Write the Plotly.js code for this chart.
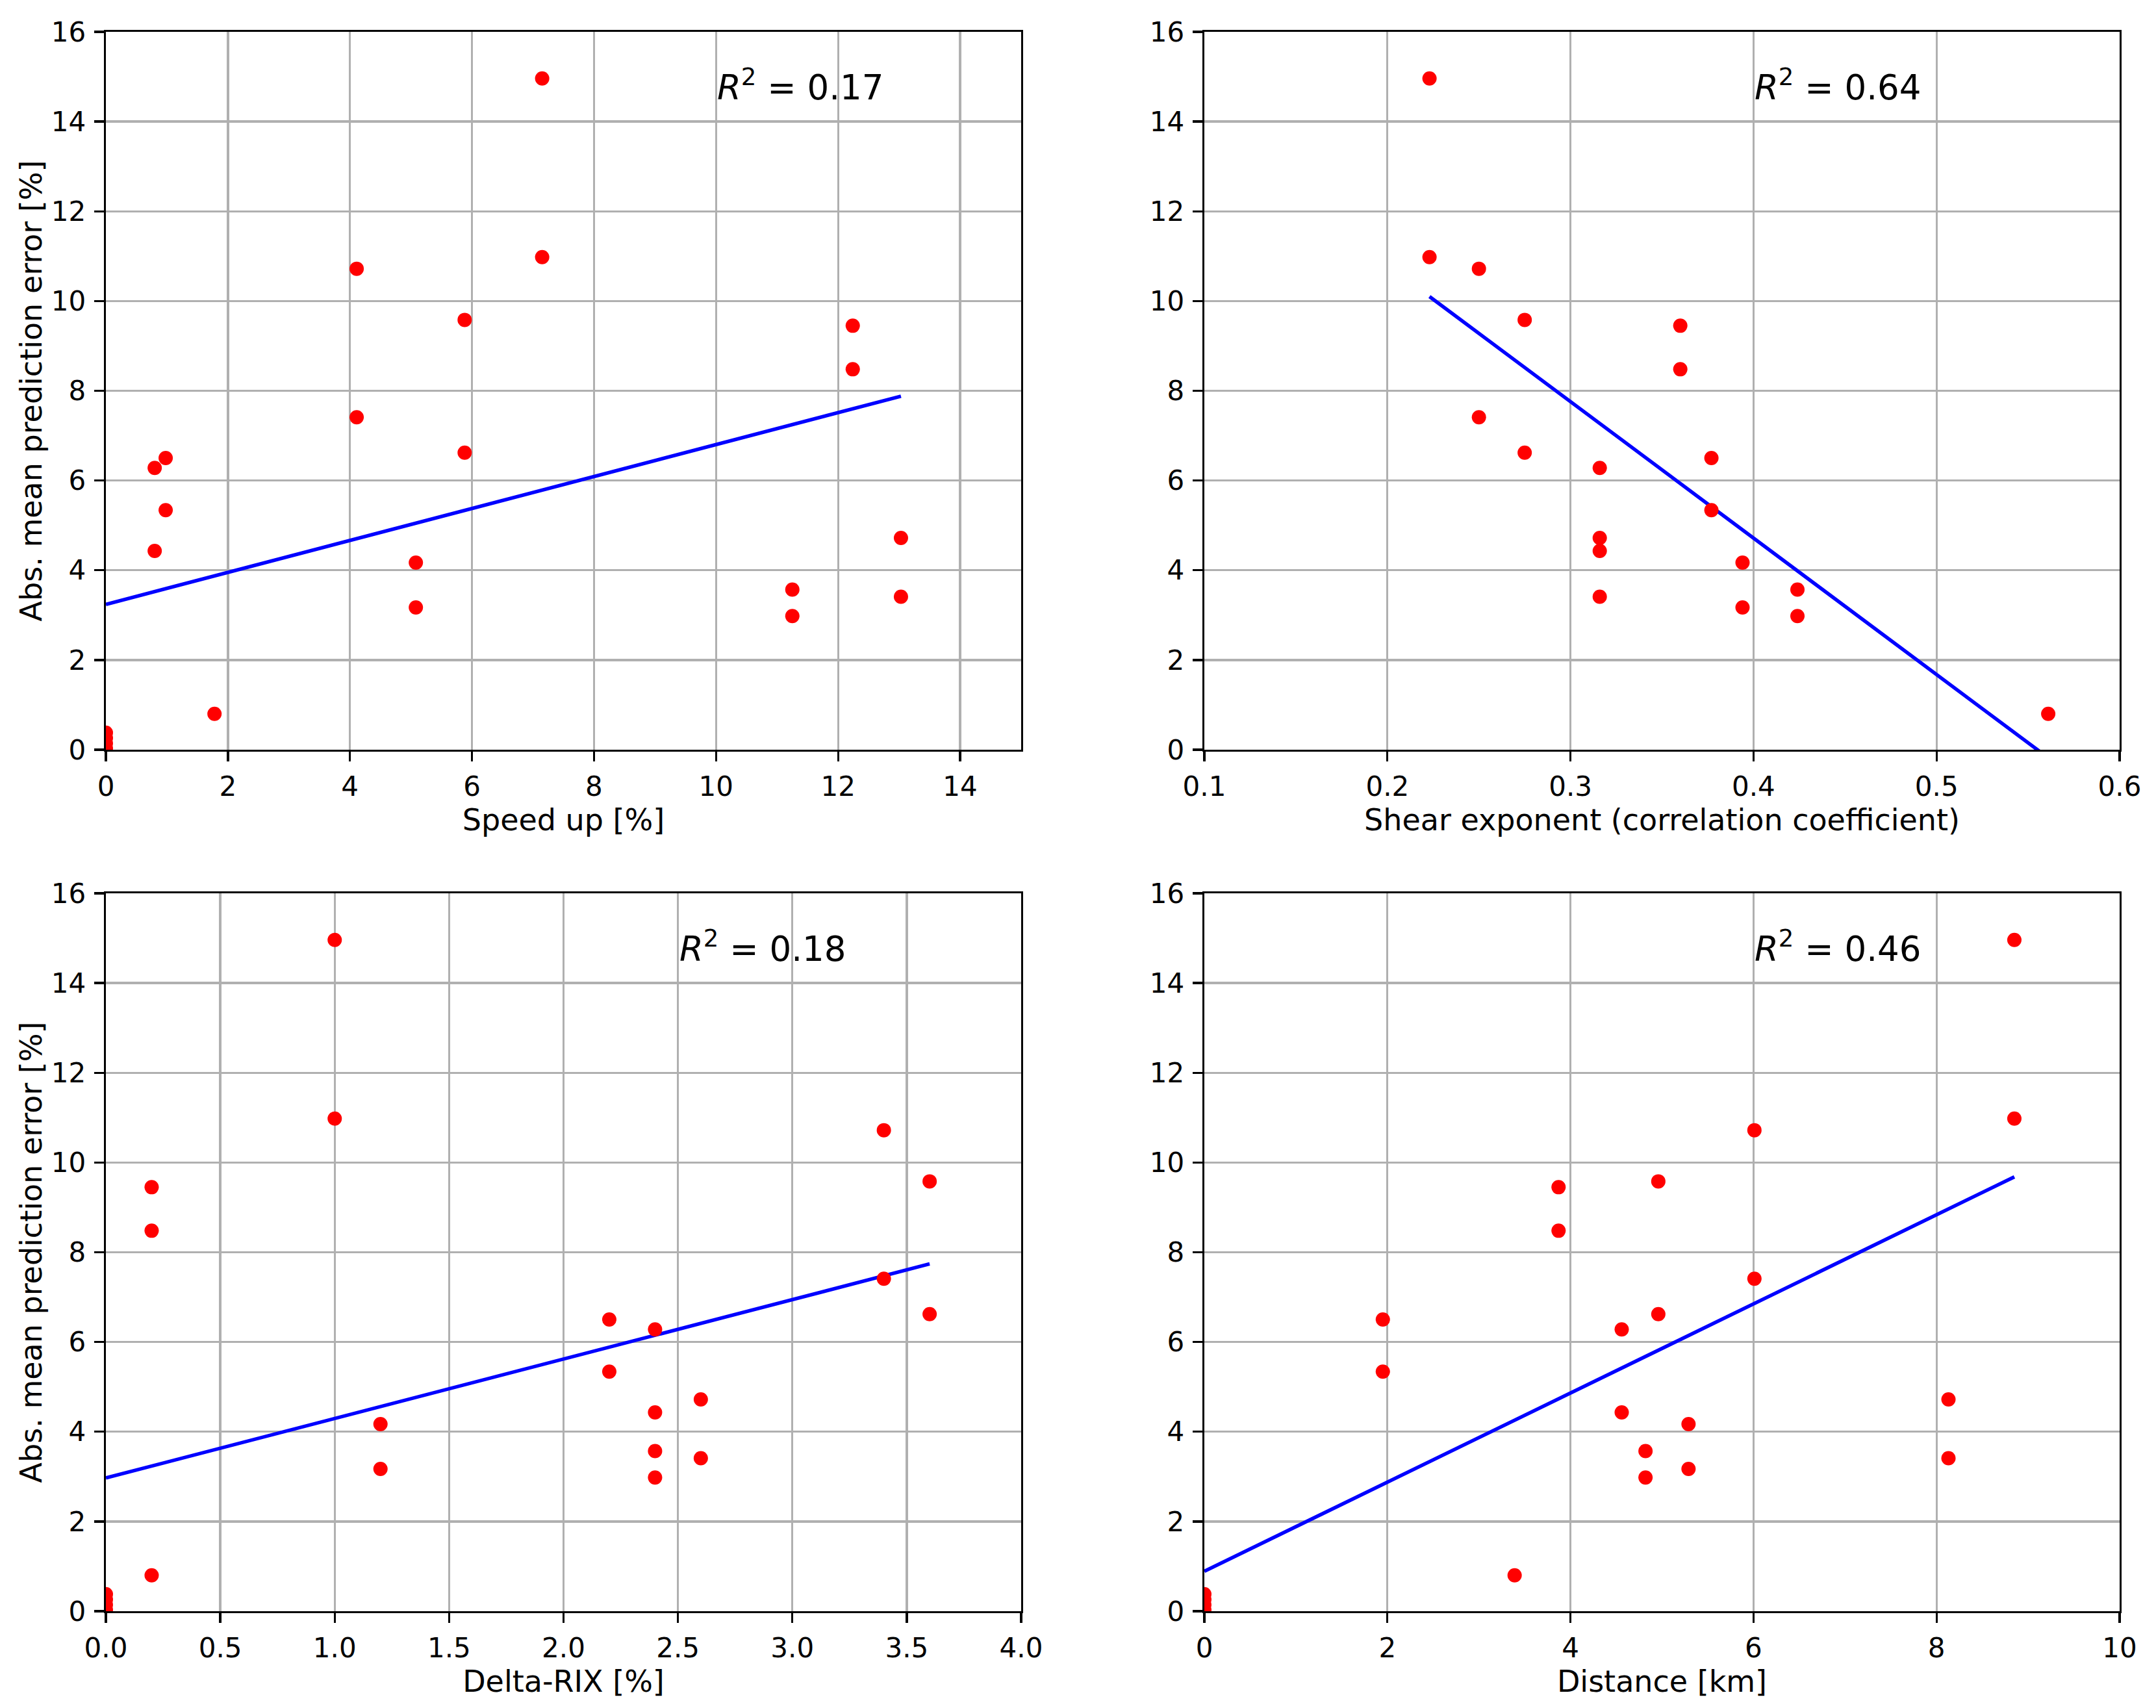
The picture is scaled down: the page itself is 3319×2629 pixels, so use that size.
<!DOCTYPE html>
<html>
<head>
<meta charset="utf-8">
<script src="https://cdn.plot.ly/plotly-3.0.1.min.js"></script>
<style>
  html, body { margin: 0; padding: 0; background: #ffffff; }
  #chart { width: 3319px; height: 2629px; }
</style>
</head>
<body>
<div id="chart"></div>
<script>
// Absolute mean prediction error [%] (shared across all four panels)
const errorPct   = [14.96, 10.98, 10.72, 7.41, 9.58, 6.62, 9.45, 8.48, 6.28, 4.43, 6.50, 5.34, 4.17, 3.17, 3.57, 2.98, 4.72, 3.41, 0.80, 0.38, 0.26, 0.14, 0.03];
// Predictors
const speedUp    = [7.15, 7.15, 4.11, 4.11, 5.88, 5.88, 12.24, 12.24, 0.80, 0.80, 0.98, 0.98, 5.08, 5.08, 11.25, 11.25, 13.03, 13.03, 1.78, 0, 0, 0, 0];
const shearExp   = [0.223, 0.223, 0.250, 0.250, 0.275, 0.275, 0.360, 0.360, 0.316, 0.316, 0.377, 0.377, 0.394, 0.394, 0.424, 0.424, 0.316, 0.316, 0.561, null, null, null, null];
const deltaRIX   = [1.0, 1.0, 3.4, 3.4, 3.6, 3.6, 0.2, 0.2, 2.4, 2.4, 2.2, 2.2, 1.2, 1.2, 2.4, 2.4, 2.6, 2.6, 0.2, 0, 0, 0, 0];
const distanceKm = [8.85, 8.85, 6.01, 6.01, 4.96, 4.96, 3.87, 3.87, 4.56, 4.56, 1.95, 1.95, 5.29, 5.29, 4.82, 4.82, 8.13, 8.13, 3.39, 0, 0, 0, 0];

// Fitted regression lines (end points)
const fitSpeedX = [0, 13.03],     fitSpeedY = [3.24, 7.88];
const fitShearX = [0.223, 0.561], fitShearY = [10.10, -0.18];
const fitRixX   = [0, 3.6],       fitRixY   = [2.97, 7.74];
const fitDistX  = [0, 8.85],      fitDistY  = [0.89, 9.68];

// R^2 labels and their anchor x positions
const r2Labels = ['0.17', '0.64', '0.18', '0.46'];
const r2X      = [10, 0.4, 2.5, 6];
const r2Y      = 14.5;

// Axis titles
const xTitles = ['Speed up [%]', 'Shear exponent (correlation coefficient)', 'Delta-RIX [%]', 'Distance [km]'];
const yTitle  = 'Abs. mean prediction error [%]';

const FONT = 'DejaVu Sans, Liberation Sans, sans-serif';
const W = 3319, H = 2629;

const panels = [
  {x: speedUp,    fx: fitSpeedX, fy: fitSpeedY},
  {x: shearExp,   fx: fitShearX, fy: fitShearY},
  {x: deltaRIX,   fx: fitRixX,   fy: fitRixY},
  {x: distanceKm, fx: fitDistX,  fy: fitDistY}
];

const traces = [];
panels.forEach((p, i) => {
  const xa = 'x' + (i + 1), ya = 'y' + (i + 1);
  traces.push({
    type: 'scatter', mode: 'lines', x: p.fx, y: p.fy, xaxis: xa, yaxis: ya,
    line: {color: '#0000ff', width: 5.5}, hoverinfo: 'skip', showlegend: false, cliponaxis: true
  });
  traces.push({
    type: 'scatter', mode: 'markers', x: p.x, y: errorPct, xaxis: xa, yaxis: ya,
    marker: {color: '#ff0000', size: 22, line: {width: 0}}, showlegend: false, cliponaxis: true
  });
});

const xDomL = [163 / W, 1572 / W], xDomR = [1854 / W, 3263 / W];
const yDomT = [1 - 1154 / H, 1 - 49 / H], yDomB = [1 - 2480 / H, 1 - 1375 / H];

function xAxis(range, dtick, domain, anchor, title, fmt) {
  return {
    range: range, dtick: dtick, tick0: 0, domain: domain, anchor: anchor,
    tickformat: fmt || '',
    showgrid: true, gridcolor: '#b0b0b0', gridwidth: 3.3, zeroline: false,
    showline: true, linecolor: '#000000', linewidth: 3.3, mirror: true,
    ticks: 'outside', ticklen: 15, tickwidth: 3.3, tickcolor: '#000000',
    ticklabelstandoff: 2,
    tickfont: {family: FONT, size: 42, color: '#000000'},
    title: {text: title, font: {family: FONT, size: 46, color: '#000000'}, standoff: 0}
  };
}
function yAxis(domain, anchor, title) {
  return {
    range: [0, 16], dtick: 2, tick0: 0, domain: domain, anchor: anchor,
    showgrid: true, gridcolor: '#b0b0b0', gridwidth: 3.3, zeroline: false,
    showline: true, linecolor: '#000000', linewidth: 3.3, mirror: true,
    ticks: 'outside', ticklen: 15, tickwidth: 3.3, tickcolor: '#000000',
    ticklabelstandoff: 4,
    tickfont: {family: FONT, size: 42, color: '#000000'},
    title: {text: title, font: {family: FONT, size: 46, color: '#000000'}, standoff: 0}
  };
}

const annotations = r2Labels.map((v, i) => ({
  xref: 'x' + (i + 1), yref: 'y' + (i + 1), x: r2X[i], y: r2Y,
  xanchor: 'left', yanchor: 'bottom', yshift: -14, showarrow: false,
  text: '<i>R</i><sup>2</sup> = ' + v,
  font: {family: FONT, size: 53, color: '#000000'}
}));

const layout = {
  width: W, height: H,
  margin: {l: 0, r: 0, t: 0, b: 0},
  paper_bgcolor: '#ffffff', plot_bgcolor: '#ffffff',
  showlegend: false,
  font: {family: FONT, color: '#000000'},
  xaxis:  xAxis([0, 15],    2,   xDomL, 'y',  xTitles[0]),
  yaxis:  yAxis(yDomT, 'x', yTitle),
  xaxis2: xAxis([0.1, 0.6], 0.1, xDomR, 'y2', xTitles[1]),
  yaxis2: yAxis(yDomT, 'x2', ''),
  xaxis3: xAxis([0, 4],     0.5, xDomL, 'y3', xTitles[2], '.1f'),
  yaxis3: yAxis(yDomB, 'x3', yTitle),
  xaxis4: xAxis([0, 10],    2,   xDomR, 'y4', xTitles[3]),
  yaxis4: yAxis(yDomB, 'x4', ''),
  annotations: annotations
};

Plotly.newPlot('chart', traces, layout, {displayModeBar: false, staticPlot: true});
</script>
</body>
</html>
